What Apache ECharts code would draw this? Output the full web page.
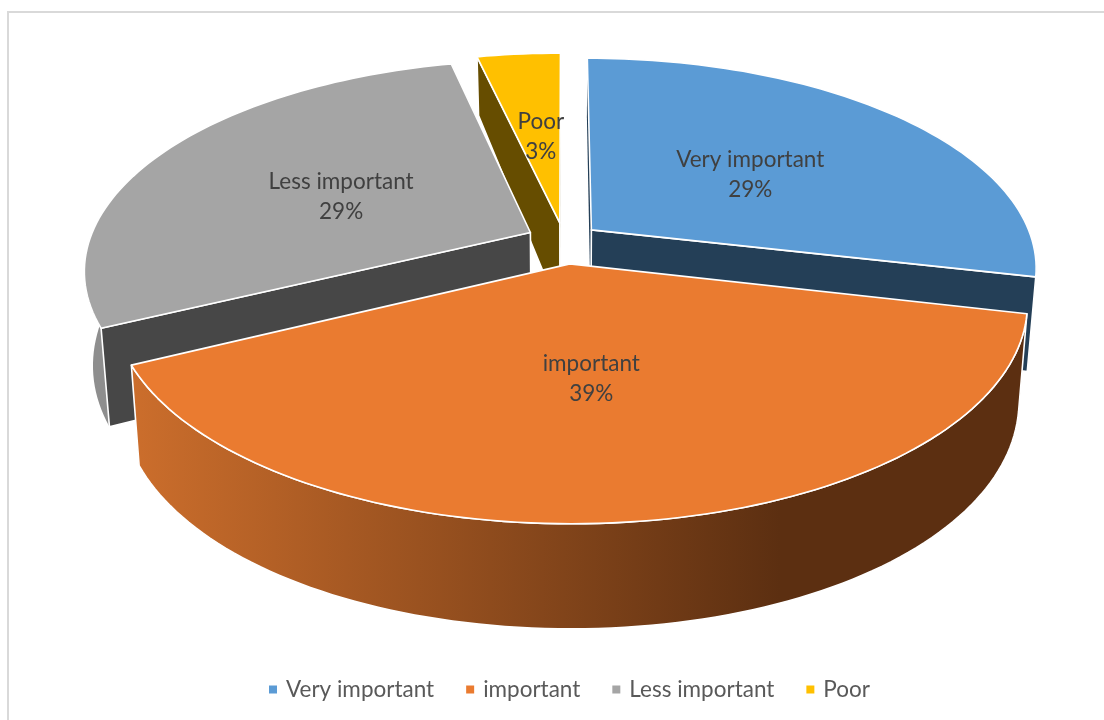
<!DOCTYPE html>
<html><head><meta charset="utf-8">
<style>html,body{margin:0;padding:0;background:#fff}#c{width:1104px;height:720px}</style>
<script src="https://cdn.jsdelivr.net/npm/echarts@6/dist/echarts.min.js"></script>
</head><body><div id="c"></div>
<script>
const categories = ['Very important', 'important', 'Less important', 'Poor'];
const values = [28.6, 39.2, 28.6, 3.6];
const percentLabels = ['29%', '39%', '29%', '3%'];
const topColors = ['#5B9BD5', '#EA7B30', '#A5A5A5', '#FFC000'];
const faceColors = ['#243F57', '#5F3012', '#474747', '#664D00'];
const wallLeft = ['#243F57', '#CC6E2C', '#8E8E8E', '#664D00'];
const wallRight = ['#243F57', '#5C2F11', '#8E8E8E', '#664D00'];
const explodes = [0.08, 0.115, 0.085, 0.085];
const labelRadii = [0.5, 0.5, 0.5, 0.47];
const labelShifts = [[-2, 4], [-7, -2], [0, 6], [2, 0]];
const drawOrder = [3, 2, 0, 1];

const view = {cx: 564, cy: 240, A: 441, B: 205, p: 0.175, shrink: 0.018};
const total = values.reduce((a, b) => a + b, 0);
const starts = [];
values.reduce((acc, v, i) => { starts[i] = acc; return acc + v; }, 0);

function project(X, Y, z) {
  const w = 1 - view.p * Y;
  const h = 91 + 21.8 * Y - 8.2 * Y * Y;
  return [view.cx + view.A * X / w * (1 - view.shrink * z), view.cy + view.B * Y / w + z * h];
}
function sliceItem(i) {
  return function () {
    const a0 = starts[i] / total * Math.PI * 2, a1 = (starts[i] + values[i]) / total * Math.PI * 2;
    const mid = (a0 + a1) / 2;
    const e = explodes[i];
    const ox = e * Math.sin(mid), oy = -e * Math.cos(mid);
    const pt = (t, r, z) => project(ox + r * Math.sin(t), oy - r * Math.cos(t), z);
    const n = Math.max(6, Math.round((a1 - a0) * 40));
    const arc = [], wallTop = [], wallBottom = [];
    for (let k = 0; k <= n; k++) {
      const t = a0 + (a1 - a0) * k / n;
      arc.push(pt(t, 1, 0));
      if (Math.cos(t) < 0.1) { wallTop.push(pt(t, 1, 0)); wallBottom.push(pt(t, 1, 1)); }
    }
    const apex = pt(0, 0, 0), apexB = pt(0, 0, 1);
    const white = {stroke: '#fff', lineWidth: 1.6, lineJoin: 'round'};
    const poly = (pts, fill, z2, stroked) => ({type: 'polygon', z2: z2, shape: {points: pts},
      style: Object.assign({fill: fill}, stroked ? white : {stroke: null})});
    const grad = {type: 'linear', x: 130, y: 0, x2: 780, y2: 0, global: true,
      colorStops: [{offset: 0, color: wallLeft[i]}, {offset: 1, color: wallRight[i]}]};
    const lp = pt(mid, labelRadii[i], 0);
    const a0Visible = -Math.sin(a0) > 0.01, a1Visible = Math.sin(a1) > 0.01;
    const children = [];
    // faces turned away from the viewer go first, without an edge line
    if (!a0Visible) children.push(poly([apex, arc[0], pt(a0, 1, 1), apexB], faceColors[i], 1, false));
    if (!a1Visible) children.push(poly([apex, arc[n], pt(a1, 1, 1), apexB], faceColors[i], 1, false));
    if (wallTop.length > 1) children.push(poly(wallTop.concat(wallBottom.slice().reverse()), grad, 2, i === 1));
    if (a0Visible) children.push(poly([apex, arc[0], pt(a0, 1, 1), apexB], faceColors[i], 3, true));
    if (a1Visible) children.push(poly([apex, arc[n], pt(a1, 1, 1), apexB], faceColors[i], 3, true));
    children.push(poly([apex].concat(arc), topColors[i], 4, true));
    children.push({type: 'text', z2: 10, style: {
      text: categories[i] + '\n' + percentLabels[i],
      x: lp[0] + labelShifts[i][0], y: lp[1] + labelShifts[i][1], align: 'center', verticalAlign: 'middle',
      font: '22.5px Lato, "Open Sans", sans-serif', lineHeight: 30, fill: '#404040'}});
    return {type: 'group', children: children};
  };
}
const chart = echarts.init(document.getElementById('c'));
chart.setOption({
  animation: false,
  backgroundColor: '#fff',
  graphic: [{type: 'rect', silent: true, shape: {x: 8, y: 12, width: 1300, height: 900},
    style: {fill: 'none', stroke: '#D9D9D9', lineWidth: 2}}],
  legend: {
    data: categories, left: 264, top: 673, icon: 'rect', itemWidth: 8, itemHeight: 8, itemGap: 32,
    textStyle: {fontFamily: 'Lato, "Open Sans", sans-serif', fontSize: 22.5, color: '#595959', padding: [0, 0, 0, 4]}
  },
  series: drawOrder.map((i, order) => ({
    type: 'custom', name: categories[i], coordinateSystem: 'none', silent: true,
    itemStyle: {color: topColors[i]}, z: 2 + order,
    data: [values[i]], renderItem: sliceItem(i)
  }))
});
</script></body></html>
